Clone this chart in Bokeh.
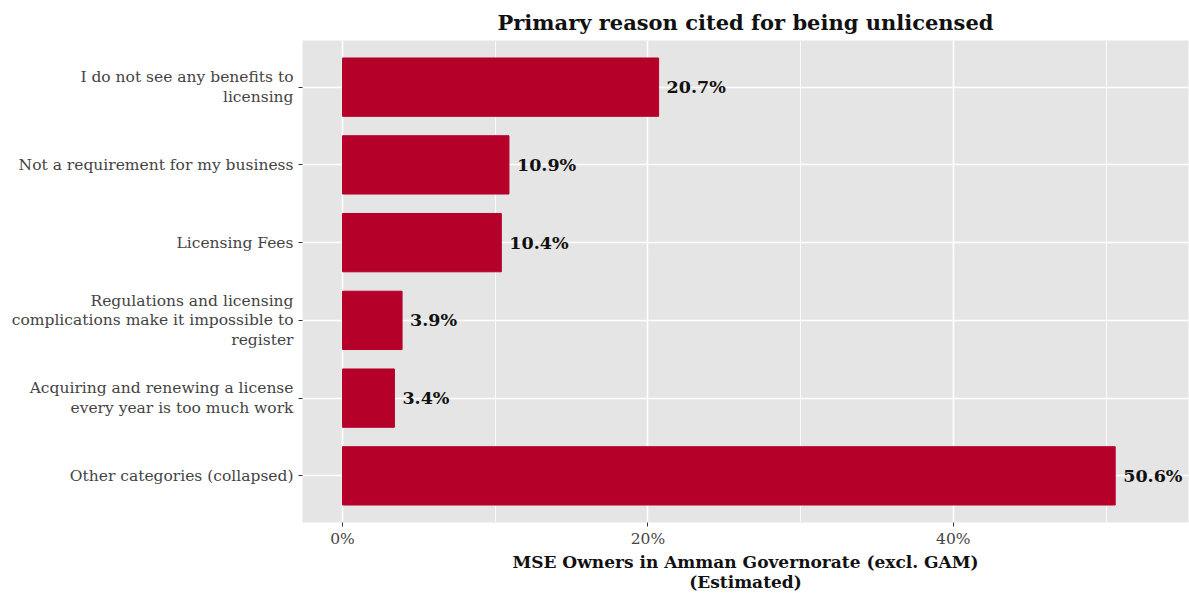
from bokeh.plotting import figure
from bokeh.models import FactorRange, Range1d, FixedTicker, PrintfTickFormatter
from bokeh.core.properties import value
from bokeh.embed import file_html
from bokeh.resources import INLINE

categories = [
    "I do not see any benefits to\nlicensing",
    "Not a requirement for my business",
    "Licensing Fees",
    "Regulations and licensing\ncomplications make it impossible to\nregister",
    "Acquiring and renewing a license\nevery year is too much work",
    "Other categories (collapsed)",
]
values = [20.7, 10.9, 10.4, 3.9, 3.4, 50.6]
labels = [f"{v:.1f}%" for v in values]
x_ticks = [0, 20, 40]
x_minor = [10, 30, 50]

FONT = "DejaVu Serif"

p = figure(
    width=1189, height=594,
    y_range=FactorRange(factors=list(reversed(categories)), range_padding=0.1,
                        range_padding_units="absolute"),
    x_range=Range1d(-2.62, 55.4),
    output_backend="svg", toolbar_location=None,
    title="Primary reason cited for being unlicensed",
    min_border_left=302, min_border_right=1, min_border_top=40, min_border_bottom=70,
)

p.background_fill_color = "#E5E5E5"
p.border_fill_color = "white"
p.outline_line_color = None

p.hbar(y=categories, right=values, left=0, height=0.75, color="#B5002A")
p.text(x=values, y=categories, text=labels, x_offset=8, text_baseline="middle",
       text_align="left", text_font=value(FONT), text_font_size="17.5px",
       text_color="#111111", text_font_style="bold")

p.title.align = "center"
p.title.text_font = FONT
p.title.text_font_size = "21px"
p.title.text_font_style = "bold"
p.title.text_color = "#111111"
p.title.standoff = 12

p.xaxis.ticker = FixedTicker(ticks=x_ticks, minor_ticks=x_minor)
p.xaxis.formatter = PrintfTickFormatter(format="%d%%")
p.xaxis.axis_label = "MSE Owners in Amman Governorate (excl. GAM)\n(Estimated)"
p.xaxis.axis_label_text_font = FONT
p.xaxis.axis_label_text_font_size = "17px"
p.xaxis.axis_label_text_font_style = "bold"
p.xaxis.axis_label_text_color = "#111111"
p.xaxis.axis_label_standoff = 1
p.xaxis.axis_label_text_line_height = 1.0

for ax in (p.xaxis, p.yaxis):
    ax.axis_line_color = None
    ax.major_tick_in = 0
    ax.major_tick_out = 4
    ax.minor_tick_out = 0
    ax.minor_tick_in = 0
    ax.major_tick_line_color = "#333333"
    ax.major_label_text_font = FONT
    ax.major_label_text_font_size = "15.5px"
    ax.major_label_text_color = "#444444"

p.xaxis.major_label_standoff = 3
p.yaxis.major_label_standoff = 5
p.yaxis.major_label_text_align = "right"
p.yaxis.major_label_text_line_height = 1.1

p.xgrid.grid_line_color = "white"
p.xgrid.grid_line_width = 1.6
p.xgrid.minor_grid_line_color = "white"
p.xgrid.minor_grid_line_width = 0.8
p.ygrid.grid_line_color = "white"
p.ygrid.grid_line_width = 1.6

open("out.html", "w").write(file_html(p, INLINE))
